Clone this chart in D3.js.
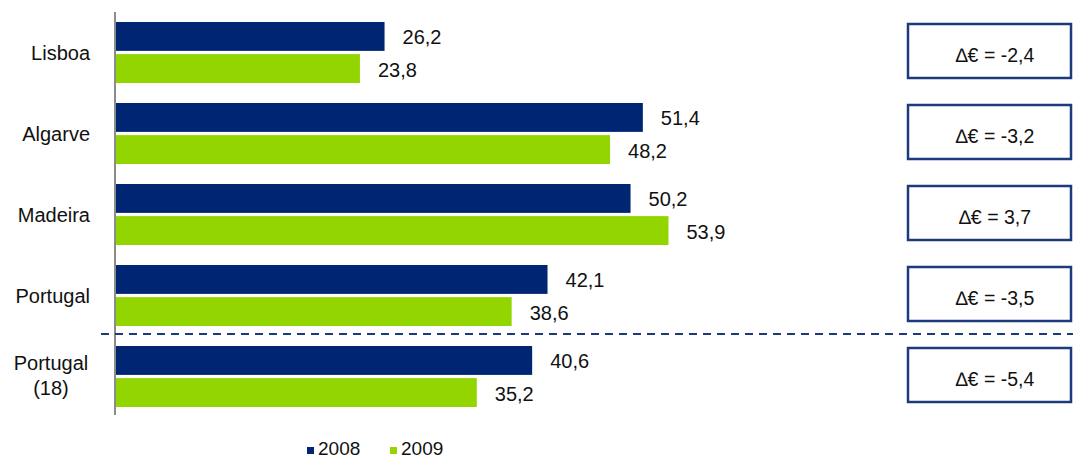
<!DOCTYPE html>
<html>
<head>
<meta charset="utf-8">
<script src="https://cdn.jsdelivr.net/npm/d3@7"></script>
<style>
  body { margin: 0; background: #fff; }
  text { font-family: "Liberation Sans", Arial, sans-serif; }
</style>
</head>
<body>
<div class="chart"></div>
<script>
const regions = ["Lisboa", "Algarve", "Madeira", "Portugal", "Portugal (18)"];
const years = ["2008", "2009"];
const values2008 = [26.2, 51.4, 50.2, 42.1, 40.6];
const values2009 = [23.8, 48.2, 53.9, 38.6, 35.2];
const deltas = [-2.4, -3.2, 3.7, -3.5, -5.4];

const width = 1073, height = 461;
const colors = { "2008": "#002673", "2009": "#93d500" };
const fmt = v => String(v).replace(".", ",");

const svg = d3.select(".chart").append("svg")
  .attr("width", width)
  .attr("height", height);

const x = d3.scaleLinear().domain([0, 60]).range([116, 116 + 60 * 10.25]);
const y = d3.scaleBand().domain(regions).range([19, 424]).paddingInner(0).paddingOuter(0);
const yInner = d3.scaleBand().domain(years).range([0, 61]).paddingInner(0.1);

const rows = regions.map((r, i) => ({ region: r, v: [values2008[i], values2009[i]], delta: deltas[i] }));

const group = svg.selectAll("g.row")
  .data(rows)
  .enter().append("g")
  .attr("class", "row")
  .attr("transform", d => "translate(0," + (y(d.region) + 3) + ")");

years.forEach((yr, k) => {
  group.append("rect")
    .attr("x", x(0))
    .attr("y", yInner(yr))
    .attr("width", d => x(d.v[k]) - x(0))
    .attr("height", yInner.bandwidth())
    .attr("fill", colors[yr]);
  group.append("text")
    .attr("x", d => x(d.v[k]) + 18)
    .attr("y", yInner(yr) + yInner.bandwidth() / 2 + 8)
    .attr("font-size", 20)
    .attr("fill", "#111")
    .text(d => fmt(d.v[k]));
});

// category labels
group.each(function(d) {
  const two = d.region === "Portugal (18)";
  const t = d3.select(this).append("text")
    .attr("font-size", 20)
    .attr("fill", "#111")
    .attr("text-anchor", two ? "middle" : "end");
  if (two) {
    ["Portugal", "(18)"].forEach((p, j) => {
      t.append("tspan").attr("x", 51).attr("y", 24 + j * 25).text(p);
    });
  } else {
    t.attr("x", 90).attr("y", 38).text(d.region);
  }
});

// delta boxes
group.append("rect")
  .attr("x", 908)
  .attr("y", 2)
  .attr("width", 163)
  .attr("height", 54)
  .attr("fill", "#fff")
  .attr("stroke", "#1c3a7c")
  .attr("stroke-width", 2.5);
group.append("text")
  .attr("x", 995)
  .attr("y", 40)
  .attr("text-anchor", "middle")
  .attr("font-size", 19.5)
  .attr("fill", "#111")
  .text(d => "\u2206\u20ac = " + fmt(d.delta));

// axis line
svg.append("line")
  .attr("x1", 115).attr("x2", 115)
  .attr("y1", 12).attr("y2", 415)
  .attr("stroke", "#8c8c8c")
  .attr("stroke-width", 2);

// dashed separator
svg.append("line")
  .attr("x1", 101).attr("x2", width)
  .attr("y1", 334).attr("y2", 334)
  .attr("stroke", "#1c3a7c")
  .attr("stroke-width", 2)
  .attr("stroke-dasharray", "8,6");

// legend
const legend = svg.selectAll("g.legend")
  .data(years)
  .enter().append("g")
  .attr("class", "legend")
  .attr("transform", (d, i) => "translate(" + (307 + i * 83) + ",447)");
legend.append("rect")
  .attr("x", 0).attr("y", 0)
  .attr("width", 7).attr("height", 7)
  .attr("fill", d => colors[d]);
legend.append("text")
  .attr("x", 11).attr("y", 8)
  .attr("font-size", 19)
  .attr("fill", "#111")
  .text(d => d);
</script>
</body>
</html>
